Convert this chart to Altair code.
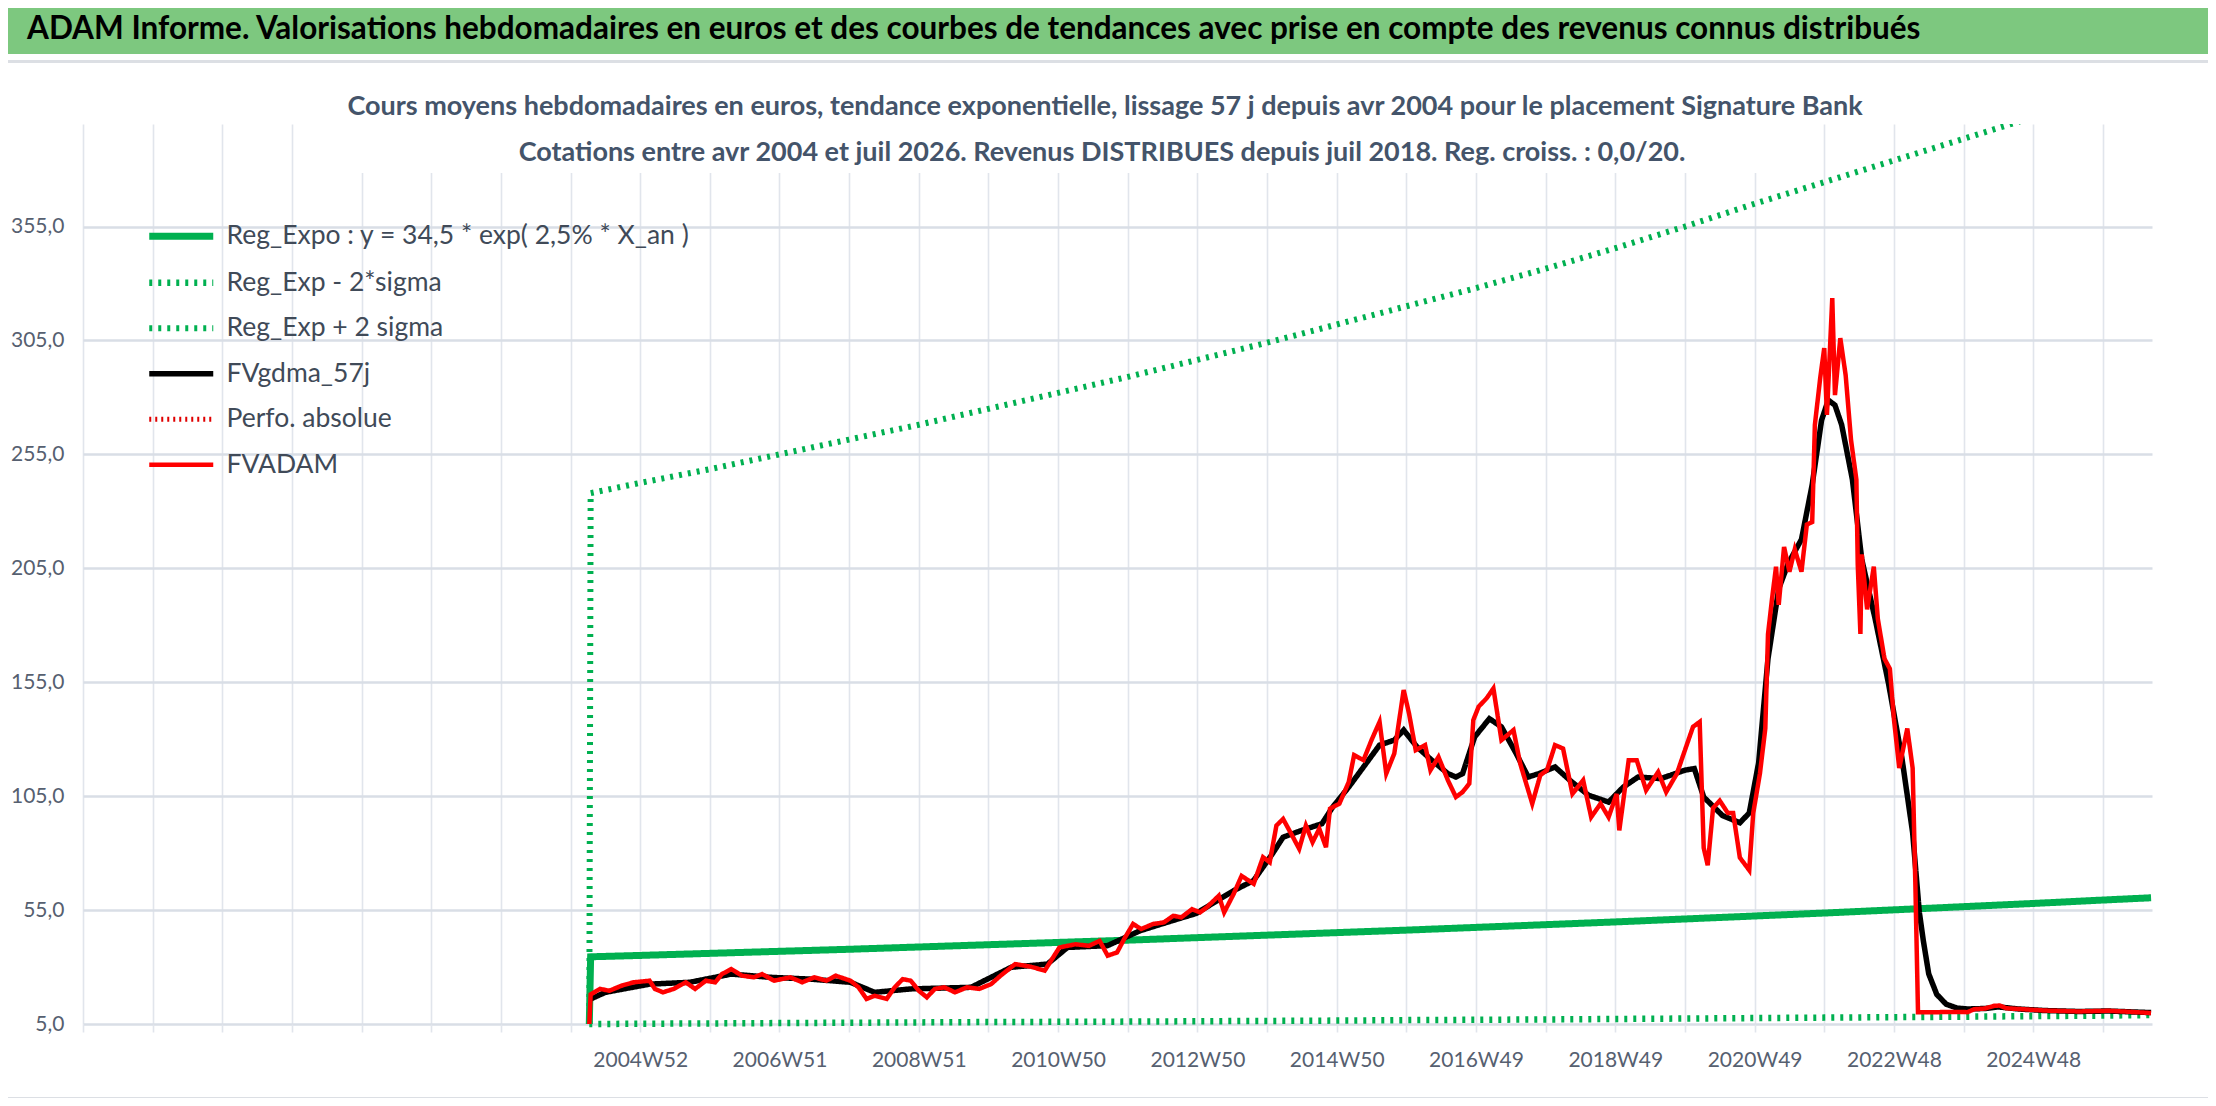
import altair as alt
import pandas as pd

FONT = "Lato, Carlito, Open Sans, sans-serif"

# ---------------- series definitions ----------------
series_names = ["Reg_Expo : y = 34,5 * exp( 2,5% *  X_an )", "Reg_Exp - 2*sigma", "Reg_Exp + 2 sigma",
                "FVgdma_57j", "Perfo. absolue", "FVADAM"]
series_colors = ["#00B050", "#00B050", "#00B050", "#000000", "#E00000", "#FF0000"]
series_dash = [[1, 0], [3, 6], [3, 6], [1, 0], [2, 4], [1, 0]]
series_width = [7, 4.5, 4.5, 4, 2.5, 6]

# ---------------- x axis (weekly categories) ----------------
grid_weeks = list(range(0, 1509, 52))
label_weeks = [416, 520, 624, 728, 832, 936, 1040, 1144, 1248, 1352, 1456]
label_texts = ["2004W52", "2006W51", "2008W51", "2010W50", "2012W50", "2014W50",
               "2016W49", "2018W49", "2020W49", "2022W48", "2024W48"]
y_ticks = [5, 55, 105, 155, 205, 255, 305, 355]

# ---------------- trend lines ----------------
trend_idx = [378, 379, 416, 468, 520, 572, 624, 676, 728, 780, 832, 884, 936, 988, 1040,
             1092, 1144, 1196, 1248, 1300, 1352, 1404, 1456, 1508, 1544]
reg_val = [5, 34.5, 35.1, 36.0, 36.9, 37.8, 38.8, 39.8, 40.8, 41.8, 42.9, 44.0, 45.1, 46.2, 47.4,
           48.6, 49.8, 51.1, 52.4, 53.7, 55.1, 56.5, 57.9, 59.4, 60.4]
lo_val = [5, 5.0, 5.1, 5.25, 5.4, 5.55, 5.7, 5.85, 5.95, 6.05, 6.2, 6.35, 6.5, 6.7, 6.85,
          7.0, 7.2, 7.4, 7.6, 7.8, 8.0, 8.2, 8.45, 8.7, 8.95]
hi_val = [5, 238, 242.5, 248.5, 255, 261.5, 268, 275, 282, 289, 296.5, 304, 312, 320, 328,
          336.5, 345.5, 355, 365, 374.5, 384, 393.5, 403, 413, 420]

# ---------------- FVADAM (weekly price) ----------------
red_idx = [378, 379, 386, 393, 402, 411, 423, 427, 433, 441, 450, 457, 465, 472, 477, 484, 492, 501, 507, 516,
           528, 537, 546, 555, 562, 573, 579, 585, 591, 600, 606, 612, 618, 624, 630, 636, 643, 651, 660, 669,
           678, 685, 696, 708, 718, 729, 741, 751, 759, 765, 772, 778, 784, 790, 799, 807, 814, 820, 828, 834,
           839, 848, 852, 859, 865, 874, 881, 886, 891, 896, 902, 908, 913, 918, 923, 928, 931, 938, 945, 949,
           956, 962, 968, 973, 979, 986, 990, 995, 1002, 1006, 1012, 1019, 1025, 1030, 1035, 1038, 1042, 1048,
           1053, 1059, 1068, 1073, 1082, 1088, 1093, 1099, 1105, 1112, 1120, 1126, 1133, 1139, 1145, 1147, 1154,
           1160, 1167, 1176, 1182, 1190, 1196, 1202, 1207, 1210, 1213, 1217, 1222, 1228, 1232, 1237, 1244, 1247,
           1252, 1256, 1258, 1261, 1264, 1266, 1270, 1274, 1278, 1283, 1287, 1291, 1293, 1297, 1300, 1302, 1306,
           1308, 1312, 1316, 1320, 1324, 1325, 1327, 1328, 1332, 1337, 1340, 1345, 1349, 1352, 1356, 1362, 1366,
           1368, 1370, 1385, 1398, 1407, 1412, 1420, 1427, 1431, 1436, 1445, 1465, 1490, 1512, 1530, 1544]
red_val = [5, 18, 20.4, 19.6, 21.8, 23.3, 24, 20.4, 18.9, 20.4, 23.3, 20.4, 24, 23.3, 26.9, 29.1, 26.2, 25.5, 26.9, 24,
           25.5, 23.3, 25.5, 24, 26.2, 24, 21.1, 16, 17.4, 16, 21.1, 24.7, 24, 19.6, 16.7, 20.4, 21.1, 18.9, 21.1, 20.4,
           22.5, 26.2, 31.3, 30.1, 28.4, 38.6, 40, 39.3, 41.5, 35, 36.4, 43, 48.9, 46.7, 48.9, 49.6, 52.5, 51.8, 55.4, 54,
           56.2, 61.3, 54, 62, 70, 66.5, 78.2, 76, 92.1, 95, 88.5, 81.9, 92.1, 84.8, 90.7, 82.6, 99.5, 101.7, 111.2, 123,
           120.8, 129.6, 137.6, 114.9, 123.7, 151.6, 141.3, 125.2, 127.4, 116.4, 122.2, 112, 104.6, 106.8, 110.5, 138.4,
           144.3, 148, 152.3, 129.6, 134, 119.3, 101.7, 114.2, 116.4, 127.4, 125.9, 106, 112, 95.8, 101.7, 95.8, 106,
           90, 120.8, 120.8, 107.6, 115.6, 106.8, 114.9, 125.2, 135.4, 137.6, 82.3, 74.7, 99.8, 103, 97.6, 97.6, 78,
           72.5, 97.6, 115, 134.7, 176, 191.5, 205.7, 189, 214.4, 203.5, 213.3, 203.5, 224.2, 225.3, 267.9, 288.6,
           301.7, 272.3, 323.6, 281, 306, 289.7, 261.3, 243.9, 206.8, 176.2, 211.1, 187, 205.7, 182.8, 165.3, 160.9,
           139, 117.3, 134.7, 117.3, 67.1, 10.2, 10.2, 10.3, 10.2, 11.5, 11.8, 13, 13.1, 11.9, 11.6, 10.9, 10.5, 10.8,
           10.3, 9.8]

# ---------------- FVgdma_57j (smoothed) ----------------
black_idx = [379, 390, 423, 453, 484, 513, 543, 573, 591, 618, 663, 693, 720, 735, 765, 789, 813, 831, 859, 874,
             888, 896, 910, 925, 933, 945, 956, 968, 979, 986, 996, 1007, 1019, 1025, 1030, 1039, 1050, 1059, 1070,
             1079, 1087, 1099, 1110, 1124, 1139, 1150, 1161, 1178, 1196, 1203, 1210, 1224, 1237, 1244, 1251, 1258,
             1266, 1273, 1283, 1291, 1298, 1303, 1308, 1313, 1321, 1328, 1338, 1348, 1358, 1366, 1371, 1374, 1378,
             1384, 1391, 1399, 1407, 1420, 1430, 1445, 1465, 1490, 1512, 1544]
black_val = [16, 18.9, 22.5, 23.3, 26.9, 25.5, 24.7, 23.3, 18.9, 20.4, 21.1, 29.9, 31.3, 38.6, 39.4, 45.9, 50.3, 53.5,
             63.5, 68, 79.7, 87, 90, 92.9, 100.2, 109, 117.8, 127.4, 129.6, 134, 126.6, 120.8, 114.9, 113.4, 114.9, 131,
             139, 135.4, 123.7, 113.4, 114.9, 117.8, 112, 105.4, 102.4, 109, 113.4, 112.7, 116.4, 117.1, 104.6, 96.5,
             93.3, 97.6, 119.6, 165.3, 196, 207, 217.7, 241.7, 270, 278.8, 276.6, 268, 244, 209, 182.8, 154.4, 121.7,
             88.9, 54, 41.5, 27, 18, 13.7, 12, 11.6, 11.8, 12.5, 11.6, 10.9, 10.5, 10.7, 10]

TITLE = "ADAM Informe. Valorisations hebdomadaires en euros et des courbes de tendances avec prise en compte des revenus connus distribués"
SUB1 = "Cours moyens hebdomadaires en euros, tendance exponentielle, lissage 57 j depuis avr 2004 pour le placement Signature Bank"
SUB2 = "Cotations entre avr 2004 et juil 2026. Revenus DISTRIBUES depuis juil 2018. Reg. croiss. : 0,0/20."

# ---------------- build data ----------------
rows = []
for i, v in zip(trend_idx, reg_val):
    rows.append((i, v, series_names[0]))
for i, v in zip(trend_idx, lo_val):
    rows.append((i, v, series_names[1]))
for i, v in zip(trend_idx, hi_val):
    rows.append((i, v, series_names[2]))
for i, v in zip(black_idx, black_val):
    rows.append((i, v, series_names[3]))
for i, v in zip(red_idx, red_val):
    rows.append((i, v, series_names[5]))
df = pd.DataFrame(rows, columns=["idx", "value", "series"])
one = pd.DataFrame({"k": [0]})

pos_list = ",".join(str(p) for p in label_weeks)
txt_list = ",".join("'" + t + "'" for t in label_texts)
x_label_expr = f"indexof([{pos_list}], datum.value) >= 0 ? [{txt_list}][indexof([{pos_list}], datum.value)] : ''"

x_enc = alt.X("idx:Q", scale=alt.Scale(domain=[0, 1544.7], nice=False, zero=False),
              axis=alt.Axis(values=grid_weeks, labelExpr=x_label_expr, title=None, grid=True,
                            gridColor="#E1E5EC", gridWidth=1.6, ticks=True, tickSize=8,
                            tickColor="#E1E5EC", tickWidth=1.6, domain=False, labelFont=FONT,
                            labelFontSize=21, labelColor="#566070", labelPadding=17,
                            labelOverlap=False, labelFlush=False, labelBound=False))
y_enc = alt.Y("value:Q", scale=alt.Scale(domain=[5, 400], nice=False, zero=False),
              axis=alt.Axis(values=y_ticks, labelExpr="replace(format(datum.value, '.1f'), '.', ',')",
                            title=None, grid=True, gridColor="#D9DEE6", gridWidth=2.6, ticks=False,
                            domain=False, labelFont=FONT, labelFontSize=21, labelColor="#566070",
                            labelPadding=19))
color_enc = alt.Color("series:N", scale=alt.Scale(domain=series_names, range=series_colors),
                      legend=alt.Legend(orient="none", legendX=85, legendY=99, title=None,
                                        symbolType="M-4,0H4", symbolSize=256, labelOffset=32,
                                        labelFont=FONT, labelFontSize=26.5, labelColor="#404A58",
                                        rowPadding=18.5, padding=0, labelLimit=0))
dash_enc = alt.StrokeDash("series:N", scale=alt.Scale(domain=series_names, range=series_dash))
width_enc = alt.StrokeWidth("series:N", scale=alt.Scale(domain=series_names, range=series_width))

base = alt.Chart(df).encode(x=x_enc, y=y_enc, color=color_enc, strokeDash=dash_enc, strokeWidth=width_enc)

box = alt.Chart(one).mark_rect(color="white").encode(
    x=alt.value(247), x2=alt.value(1717), y=alt.value(-34), y2=alt.value(49))

green_low = base.transform_filter(
    alt.FieldOneOfPredicate(field="series", oneOf=[series_names[0], series_names[1]])).mark_line(clip=False)
green_hi = base.transform_filter(alt.datum.series == series_names[2]).mark_line(clip=True)
black = base.transform_filter(alt.datum.series == series_names[3]).mark_line(clip=False)
red = base.transform_filter(alt.datum.series == series_names[5]).mark_line(clip=False)

banner = alt.Chart(one).mark_rect(color="#7DC87F").encode(
    x=alt.value(-75), x2=alt.value(2125), y=alt.value(-116), y2=alt.value(-70))
banner_line = alt.Chart(one).mark_rect(color="#DCDFE4").encode(
    x=alt.value(-75), x2=alt.value(2125), y=alt.value(-64), y2=alt.value(-61))
banner_text = alt.Chart(one).mark_text(text=TITLE, align="left", baseline="middle", font=FONT,
                                       fontSize=31.5, fontWeight="bold", color="#000000").encode(
    x=alt.value(-56), y=alt.value(-94))
sub1 = alt.Chart(one).mark_text(text=SUB1, align="center", baseline="middle", font=FONT,
                                fontSize=27, fontWeight="bold", color="#44546A").encode(
    x=alt.value(1022), y=alt.value(-17))
sub2 = alt.Chart(one).mark_text(text=SUB2, align="center", baseline="middle", font=FONT,
                                fontSize=27, fontWeight="bold", color="#44546A").encode(
    x=alt.value(1019), y=alt.value(29))
bottom_line = alt.Chart(one).mark_rect(color="#DCDFE4").encode(
    x=alt.value(-75), x2=alt.value(2125), y=alt.value(973), y2=alt.value(976))

chart = alt.layer(box, green_low, green_hi, black, red, banner, banner_line, banner_text, sub1, sub2,
                  bottom_line).properties(
    width=2069, height=900,
    padding={"left": 75, "top": 116, "right": 56, "bottom": 74},
    autosize=alt.AutoSizeParams(type="none"),
    background="white",
).configure_view(strokeWidth=0)

chart.save("out.html", embed_options={"renderer": "svg", "actions": False})
